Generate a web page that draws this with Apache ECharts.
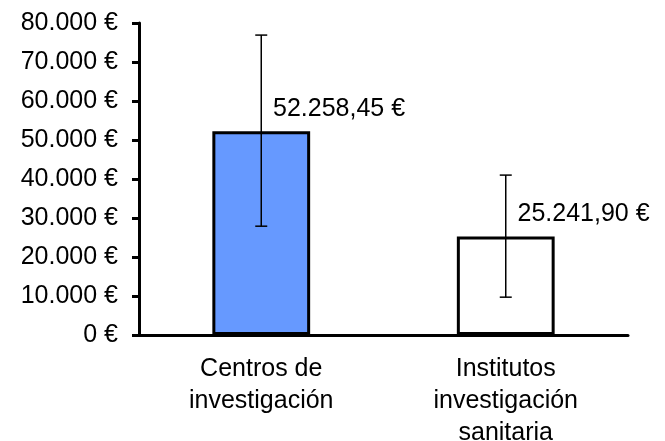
<!DOCTYPE html>
<html>
<head>
<meta charset="utf-8">
<script src="https://cdn.jsdelivr.net/npm/echarts@6/dist/echarts.min.js"></script>
<style>
html,body{margin:0;padding:0;background:#fff;}
#c{width:665px;height:441px;}
</style>
</head>
<body>
<div id="c"></div>
<script>
var categories = ['Centros de\ninvestigación', 'Institutos\ninvestigación\nsanitaria'];
var values = [52258.45, 25241.90];
var errLow = [27900, 9700];
var errHigh = [76900, 41000];
var barColors = ['#6699ff', '#ffffff'];
var yTicks = [0, 10000, 20000, 30000, 40000, 50000, 60000, 70000, 80000];

function thousands(intStr) {
  return intStr.replace(/\B(?=(\d{3})+(?!\d))/g, '.');
}
function fmtEuro0(v) { return thousands(String(Math.round(v))) + ' €'; }
function fmtEuro2(v) {
  var s = v.toFixed(2).split('.');
  return thousands(s[0]) + ',' + s[1] + ' €';
}

var font = 'Liberation Sans, Arial, sans-serif';
var chart = echarts.init(document.getElementById('c'));
chart.setOption({
  animation: false,
  backgroundColor: '#fff',
  grid: { left: 139, right: 37, top: 23, bottom: 106, containLabel: false, outerBoundsMode: 'none' },
  xAxis: {
    type: 'category',
    data: categories,
    axisLine: { lineStyle: { color: '#000', width: 3 } },
    axisTick: { show: false },
    axisLabel: { color: '#000', fontFamily: font, fontSize: 25, lineHeight: 32, margin: 18 }
  },
  yAxis: {
    type: 'value',
    min: yTicks[0],
    max: yTicks[yTicks.length - 1],
    interval: 10000,
    splitLine: { show: false },
    axisLine: { show: true, lineStyle: { color: '#000', width: 3 } },
    axisTick: { show: true, length: 7, lineStyle: { color: '#000', width: 3 } },
    axisLabel: { color: '#000', fontFamily: font, fontSize: 25, margin: 21, formatter: fmtEuro0 }
  },
  series: [
    {
      type: 'bar',
      barWidth: '40%',
      data: values.map(function (v, i) {
        return { value: v, itemStyle: { color: barColors[i], borderColor: '#000', borderWidth: 3 } };
      }),
      label: {
        show: true,
        position: ['62%', -22],
        align: 'left',
        verticalAlign: 'middle',
        color: '#000',
        fontFamily: font,
        fontSize: 25,
        formatter: function (p) { return fmtEuro2(p.value); }
      },
      z: 2
    },
    {
      type: 'custom',
      z: 5,
      data: values.map(function (v, i) { return [i, errLow[i], errHigh[i]]; }),
      renderItem: function (params, api) {
        var x = api.value(0);
        var lo = api.coord([x, api.value(1)]);
        var hi = api.coord([x, api.value(2)]);
        var cap = 6;
        var style = { stroke: '#000', lineWidth: 1.5, fill: null };
        return {
          type: 'group',
          children: [
            { type: 'line', shape: { x1: lo[0], y1: lo[1], x2: hi[0], y2: hi[1] }, style: style },
            { type: 'line', shape: { x1: lo[0] - cap, y1: lo[1], x2: lo[0] + cap, y2: lo[1] }, style: style },
            { type: 'line', shape: { x1: hi[0] - cap, y1: hi[1], x2: hi[0] + cap, y2: hi[1] }, style: style }
          ]
        };
      }
    }
  ]
});
</script>
</body>
</html>
